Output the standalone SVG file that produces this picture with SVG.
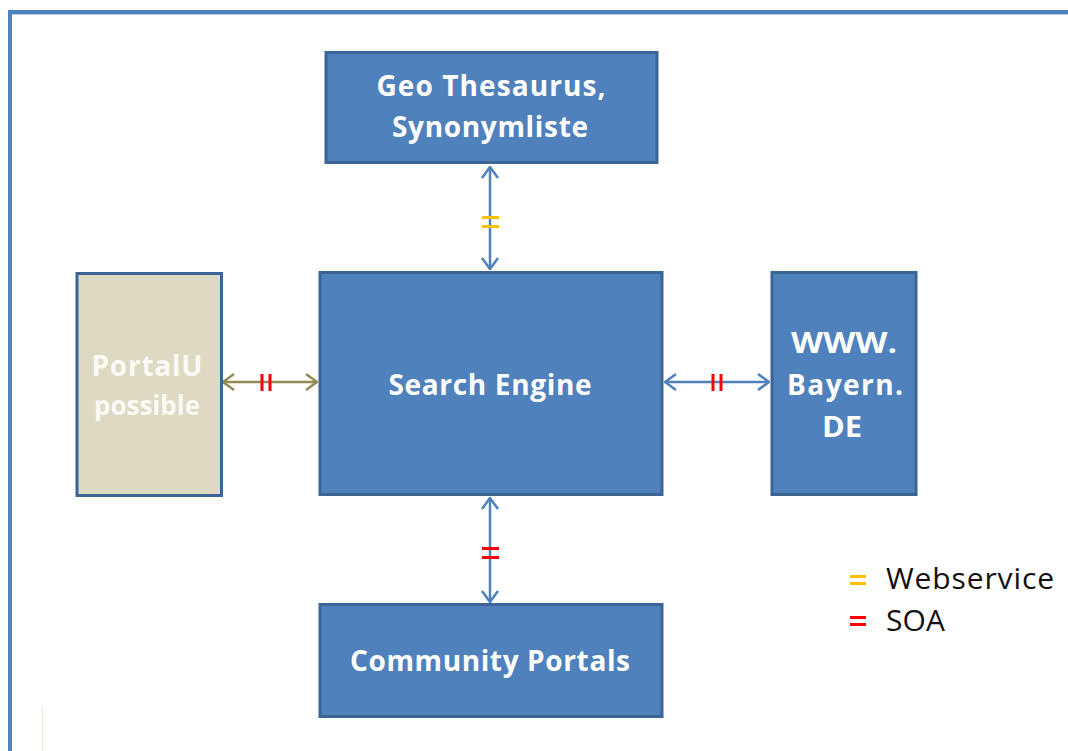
<svg xmlns="http://www.w3.org/2000/svg" width="1068" height="751" viewBox="0 0 1068 751">
<style>
.box{fill:#4f81bd;stroke:#3a6595;stroke-width:3}
.beige{fill:#ddd9c3;stroke:#3a6595;stroke-width:3}
.t{font-family:"Open Sans","Liberation Sans",sans-serif;font-weight:bold;font-size:28px;fill:#ffffff;text-anchor:middle}
.tp{fill:#fbfaf5}
.leg{font-family:"Open Sans","Liberation Sans",sans-serif;font-size:30px;fill:#111111}
.blue{stroke:#4f81bd;stroke-width:2.5;fill:none}
.olive{stroke:#948a54;stroke-width:2.5;fill:none}
.soa{stroke:#ff0000;stroke-width:3}
.ws{stroke:#ffc000;stroke-width:3}
</style>
<defs>
<marker id="ab" viewBox="0 0 14 20" refX="13" refY="10" markerWidth="14" markerHeight="20" markerUnits="userSpaceOnUse" orient="auto-start-reverse">
<path d="M2,2 L13,10 L2,18" fill="none" stroke="#4f81bd" stroke-width="2.5"/>
</marker>
<marker id="ao" viewBox="0 0 14 20" refX="13" refY="10" markerWidth="14" markerHeight="20" markerUnits="userSpaceOnUse" orient="auto-start-reverse">
<path d="M2,2 L13,10 L2,18" fill="none" stroke="#948a54" stroke-width="2.5"/>
</marker>
</defs>
<rect width="1068" height="751" fill="#ffffff"/>
<g id="frame">
<line x1="8" y1="12" x2="1068" y2="12" stroke="#4f81bd" stroke-width="4"/>
<line x1="9" y1="14.5" x2="1068" y2="14.5" stroke="#b8cce4" stroke-width="1"/>
<line x1="10" y1="11" x2="10" y2="751" stroke="#4f81bd" stroke-width="4"/>
<line x1="42.5" y1="708" x2="42.5" y2="751" stroke="#eeeacc" stroke-width="1"/>
</g>
<g id="connectors">
<line class="blue" x1="490" y1="167" x2="490" y2="269" marker-start="url(#ab)" marker-end="url(#ab)"/>
<line class="ws" x1="482" y1="217.5" x2="499" y2="217.5"/>
<line class="ws" x1="482" y1="226.5" x2="499" y2="226.5"/>
<line class="blue" x1="490" y1="498" x2="490" y2="602" marker-start="url(#ab)" marker-end="url(#ab)"/>
<line class="soa" x1="482" y1="548.5" x2="499" y2="548.5"/>
<line class="soa" x1="482" y1="557.5" x2="499" y2="557.5"/>
<line class="olive" x1="223" y1="382" x2="317" y2="382" marker-start="url(#ao)" marker-end="url(#ao)"/>
<line class="soa" x1="262" y1="374" x2="262" y2="391"/>
<line class="soa" x1="270" y1="374" x2="270" y2="391"/>
<line class="blue" x1="665" y1="382" x2="769" y2="382" marker-start="url(#ab)" marker-end="url(#ab)"/>
<line class="soa" x1="713" y1="374" x2="713" y2="391"/>
<line class="soa" x1="721" y1="374" x2="721" y2="391"/>
</g>
<g id="geo">
<rect class="box" x="326" y="52.5" width="331" height="110"/>
<text class="t" x="491" y="96" textLength="229">Geo Thesaurus,</text>
<text class="t" x="490" y="137" textLength="196">Synonymliste</text>
</g>
<g id="search">
<rect class="box" x="320" y="272.5" width="342" height="222"/>
<text class="t" x="490" y="395" textLength="203">Search Engine</text>
</g>
<g id="portalu">
<rect class="beige" x="77" y="273.5" width="144.5" height="222"/>
<text class="t tp" x="147" y="376" textLength="111">PortalU</text>
<text class="t tp" x="147" y="415" style="font-size:26px" textLength="106">possible</text>
</g>
<g id="bayern">
<rect class="box" x="772" y="272.5" width="144" height="222"/>
<text class="t" x="844" y="353" style="font-size:29px" textLength="106" lengthAdjust="spacingAndGlyphs">WWW.</text>
<text class="t" x="845" y="395" textLength="116">Bayern.</text>
<text class="t" x="842" y="437" style="font-size:29px" textLength="40" lengthAdjust="spacingAndGlyphs">DE</text>
</g>
<g id="community">
<rect class="box" x="320" y="604.5" width="342" height="112"/>
<text class="t" x="490" y="671" textLength="280">Community Portals</text>
</g>
<g id="legend">
<line class="ws" x1="850" y1="576.5" x2="866" y2="576.5"/>
<line class="ws" x1="850" y1="583.5" x2="866" y2="583.5"/>
<text class="leg" x="886" y="589" textLength="168">Webservice</text>
<line class="soa" x1="850" y1="617.5" x2="866" y2="617.5"/>
<line class="soa" x1="850" y1="624.5" x2="866" y2="624.5"/>
<text class="leg" x="886" y="631" textLength="59">SOA</text>
</g>
</svg>
